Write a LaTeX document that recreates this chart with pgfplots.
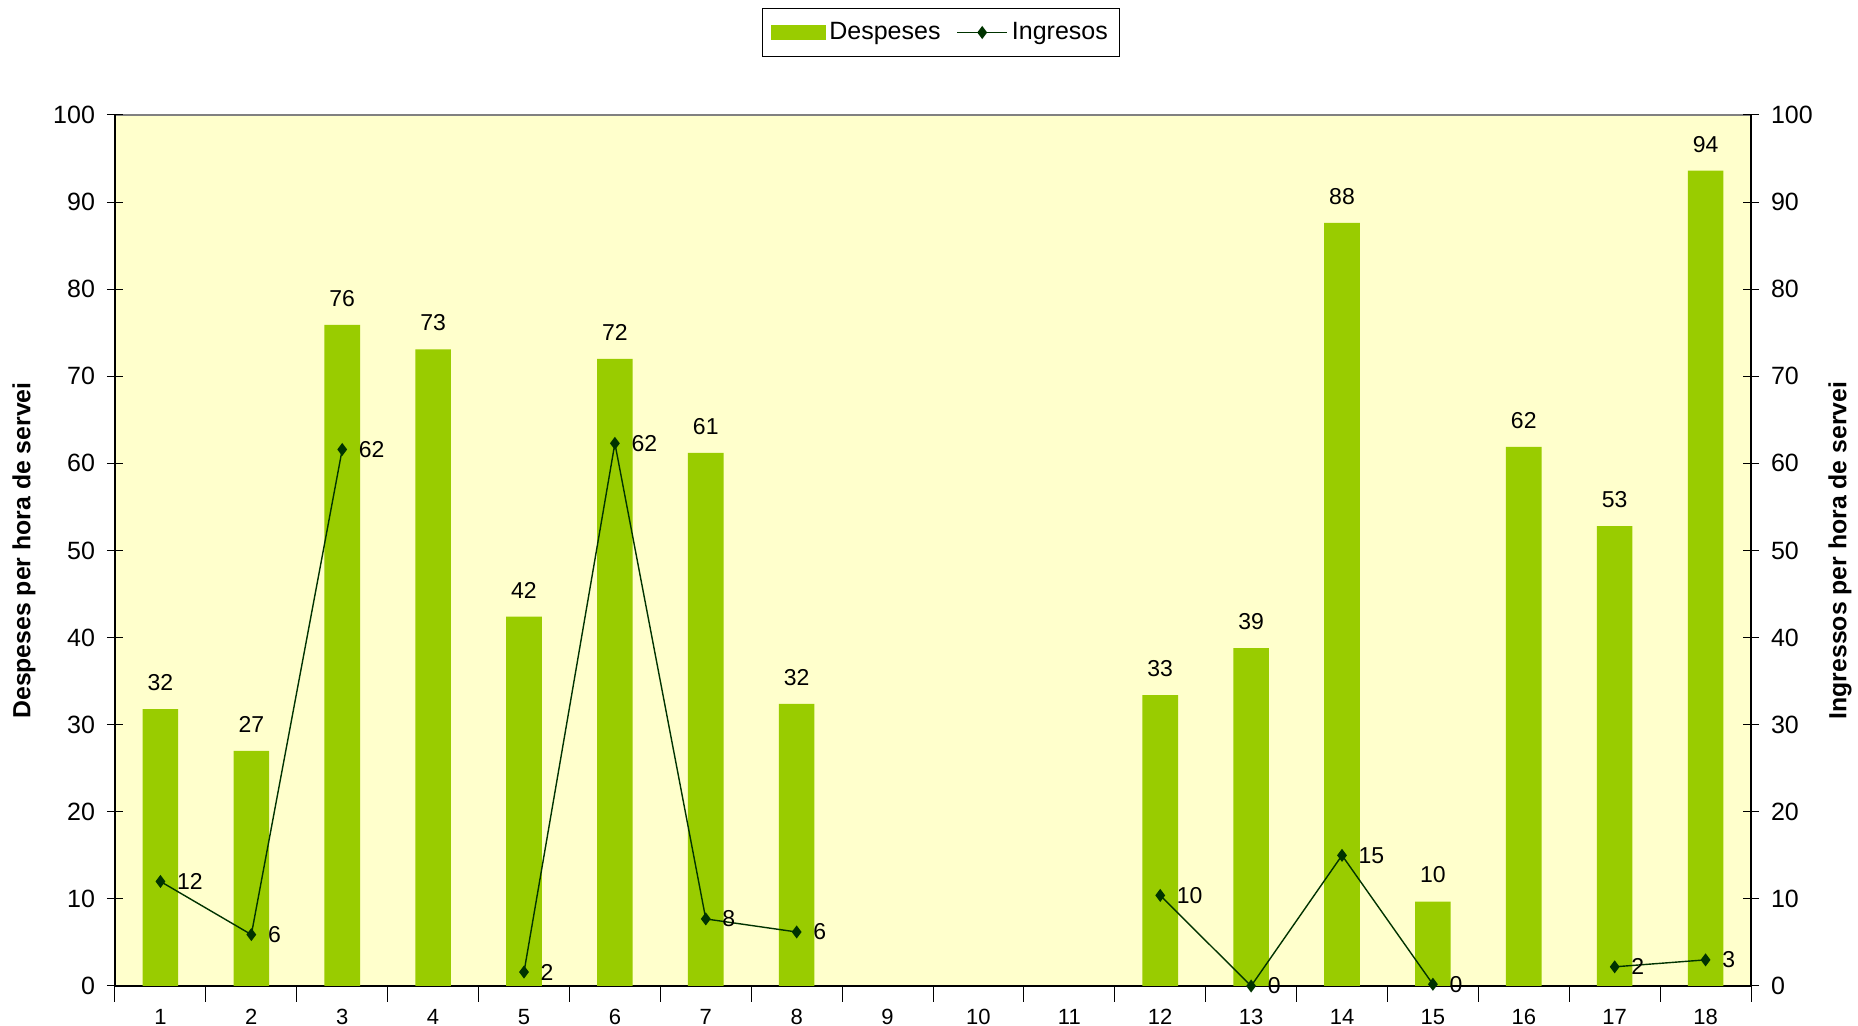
\documentclass[border=0pt]{standalone}
\usepackage{fontspec}
\setmainfont{Liberation Sans}
\usepackage{pgfplots}
\pgfplotsset{compat=1.18}
\definecolor{barc}{HTML}{99CC00}
\definecolor{bgc}{HTML}{FFFFCC}
\definecolor{linec}{HTML}{003300}
\pgfplotsset{
  /pgf/number format/assume math mode=true,
  common/.style={
    scale only axis, width=818pt, height=435.5pt,
    xmin=0.5, xmax=18.5, ymin=0, ymax=100,
    ytick={0,10,...,100},
    tick align=center, major tick length=8pt, minor tick length=8pt,
    tick style={black, line width=0.5pt},
    axis line style={black, line width=0.6pt},
    yticklabel style={font=\fontsize{12.5}{14}\selectfont},
    ylabel style={font=\fontsize{12.4}{14}\selectfont\bfseries, anchor=center},
  },
}
\begin{document}
\begin{tikzpicture}
\begin{axis}[common,
  axis x line*=bottom, axis y line*=left,
  axis background/.style={fill=bgc, draw=gray, line width=0.6pt},
  xtick={1,...,18}, major x tick style={draw=none},
  minor xtick={0.5,1.5,...,18.5},
  xticklabel style={font=\fontsize{11}{13}\selectfont, yshift=0pt},
  yticklabel style={xshift=-2.5pt},
  ylabel={Despeses per hora de servei},
  ylabel style={at={(axis description cs:-0.0556,0.5)}},
  ybar, bar width=17.8pt,
  nodes near coords={\pgfmathprintnumber[fixed,precision=0]{\pgfplotspointmeta}},
  every node near coord/.append style={anchor=south, inner sep=0pt, yshift=9pt, font=\fontsize{11.5}{13}\selectfont, text=black},
]
\addplot[fill=barc, draw=none] coordinates {
  (1,31.8) (2,27.0) (3,75.9) (4,73.1) (5,42.4) (6,72.0) (7,61.2) (8,32.4)
  (12,33.4) (13,38.8) (14,87.6) (15,9.7) (16,61.9) (17,52.8) (18,93.6)
};
\end{axis}
\begin{axis}[common, name=ax,
  axis x line=none, axis y line*=right,
  yticklabel style={xshift=2.5pt},
  ylabel={Ingressos per hora de servei},
  ylabel style={at={(axis description cs:1.0544,0.5)}},
  legend columns=2,
  legend style={at={(0.505,1.0947)}, anchor=center, draw=black, fill=white,
    font=\fontsize{12.5}{15}\selectfont, /tikz/every even column/.append style={column sep=6pt},
    inner xsep=4pt, inner ysep=5pt},
  legend cell align=left,
]
\addlegendimage{legend image code/.code={\fill[barc] (0pt,-3.5pt) rectangle (27pt,3.5pt);}}
\addlegendentry{Despeses}
\addplot[linec, line width=0.7pt, mark=diamond*, mark size=2.7pt, unbounded coords=jump,
  legend image code/.code={\draw[linec, line width=0.7pt, mark=diamond*, mark size=2.7pt, mark repeat=2, mark phase=2] plot coordinates {(0pt,0pt) (12.5pt,0pt) (25pt,0pt)};},
  nodes near coords={\pgfmathprintnumber[fixed,precision=0]{\pgfplotspointmeta}},
  every node near coord/.append style={anchor=west, inner sep=0pt, xshift=8pt, font=\fontsize{11.5}{13}\selectfont, text=black},
] coordinates {
  (1,12.0) (2,5.9) (3,61.6) (4,nan) (5,1.6) (6,62.3) (7,7.7) (8,6.2)
  (9,nan) (10,nan) (11,nan) (12,10.4) (13,0.0) (14,15.0) (15,0.2) (16,nan)
  (17,2.2) (18,3.0)
};
\addlegendentry{Ingresos}
\end{axis}
\pgfresetboundingbox
\path ([xshift=-57.5pt,yshift=-20pt]ax.south west) rectangle ([xshift=53.5pt,yshift=57.5pt]ax.north east);
\end{tikzpicture}
\end{document}
